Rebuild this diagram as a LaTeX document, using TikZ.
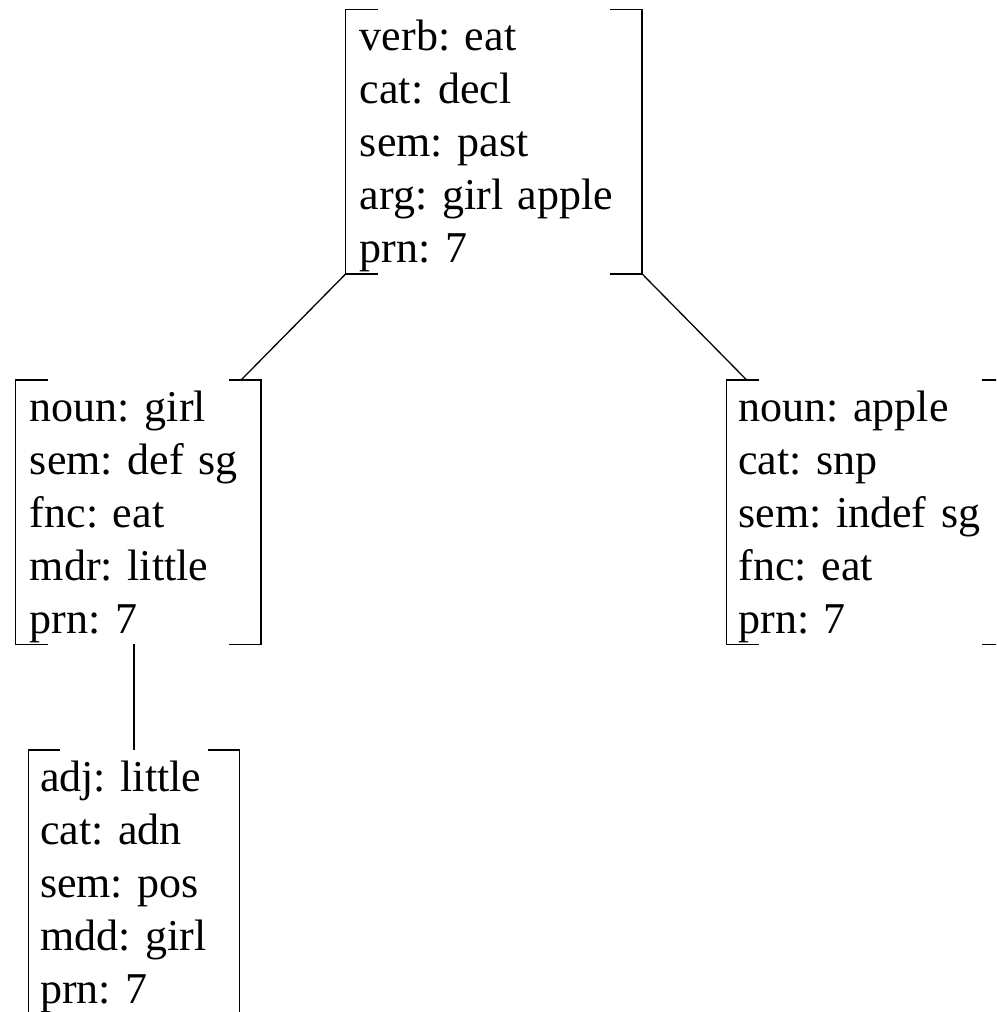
\documentclass[tikz,border=0pt]{standalone}
\usepackage{fontspec}
\setmainfont{Liberation Serif}
\usetikzlibrary{calc}
\newcommand\fsbrackets[1]{%
  \draw[bracketline] ($(#1.north west)+(32pt,0)$) -- (#1.north west) -- (#1.south west) -- ++(32pt,0);
  \draw[bracketline] ($(#1.north east)+(-32pt,0)$) -- (#1.north east) -- (#1.south east) -- ++(-32pt,0);}
\newcommand\firstln{\rule{0pt}{41pt}}
\newcommand\lastln{\rule[-11pt]{0pt}{11pt}}
\begin{document}
\frenchspacing
\begin{tikzpicture}[x=1pt,y=-1pt,
  bracketline/.style={line width=1.3pt},
  link/.style={line width=1.3pt},
  fsbox/.style={anchor=north west, inner ysep=0pt, align=left,
    font=\fontsize{44}{53}\selectfont\frenchspacing}]
\useasboundingbox (0,0) rectangle (996,1012);
\clip (0,0) rectangle (996,1012);
\node[fsbox, inner xsep=14pt, text width=268pt] (verb) at (345.7,9.5)
  {\firstln verb: eat\\ cat: decl\\ sem: past\\ arg: girl apple\\ prn: 7\lastln};
\node[fsbox, inner xsep=14pt, text width=217pt] (girl) at (15.7,380)
  {\firstln noun: girl\\ sem: def sg\\ fnc: eat\\ mdr: little\\ prn: 7\lastln};
\node[fsbox, inner xsep=11.5pt, text width=264pt] (apple) at (726.7,380)
  {\firstln noun: apple\\ cat: snp\\ sem: indef sg\\ fnc: eat\\ prn: 7\lastln};
\node[fsbox, inner xsep=11.5pt, text width=188pt] (adj) at (28.3,750)
  {\firstln adj: little\\ cat: adn\\ sem: pos\\ mdd: girl\\ prn: 7\lastln};
\fsbrackets{verb}
\fsbrackets{girl}
\fsbrackets{apple}
\fsbrackets{adj}
\draw[link] (verb.south west) -- ($(girl.north east)+(-20pt,0)$);
\draw[link] (verb.south east) -- ($(apple.north west)+(20pt,0)$);
\draw[link] (girl.south -| adj.north) -- (adj.north);
\end{tikzpicture}
\end{document}
